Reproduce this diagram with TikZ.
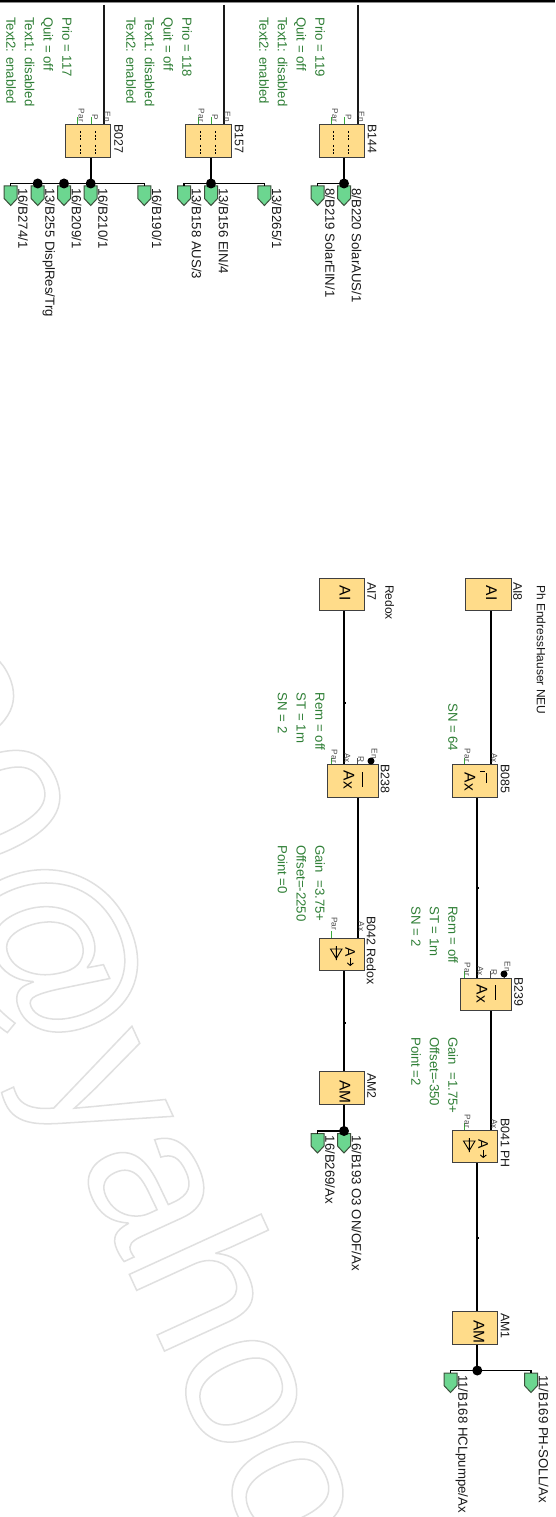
\documentclass[tikz,border=0pt]{standalone}
\usepackage{fontspec}
\usetikzlibrary{arrows.meta}
\setmainfont{Liberation Sans}
\definecolor{boxfill}{HTML}{FFDC8A}
\definecolor{boxline}{HTML}{404040}
\definecolor{pfill}{HTML}{6CD690}
\definecolor{pline}{HTML}{3C503C}
\definecolor{grn}{HTML}{2F7F36}
\definecolor{pargrn}{HTML}{3AAA3A}
\tikzset{
 blk/.style={draw=boxline,fill=boxfill,line width=1pt,inner sep=0pt,minimum width=#1,minimum height=32.5pt},
 blk/.default=45.5pt,
 lbl/.style={rotate=-90,anchor=west,inner sep=0pt,font=\fontsize{13.2}{13.2}\selectfont,text=black!90,text height=9.5pt,text depth=0pt},
 blbl/.style={lbl,font=\fontsize{12.4}{12.4}\selectfont},
 cmt/.style={lbl,font=\fontsize{12}{12}\selectfont},
 note/.style={lbl,text=grn},
 sym/.style={rotate=-90,inner sep=0pt,font=\fontsize{15.5}{15.5}\selectfont,text=black},
 pinlbl/.style={rotate=-90,anchor=east,inner sep=0pt,font=\fontsize{8.3}{8.3}\selectfont,text=black!70},
 thickwire/.style={line width=2.2pt,black},
 thinwire/.style={line width=1.1pt,black!90},
 parwire/.style={line width=0.8pt,pargrn},
 rwire/.style={line width=0.8pt,black!70},
 busw/.style={line width=1.1pt,black},
 jdot/.style={circle,fill=black,inner sep=0pt,minimum size=#1},
 jdot/.default=10pt,
 pennant/.style={fill=pfill,draw=pline,line width=1pt},
 glyph/.style={line width=0.9pt,black},
 dashg/.style={line width=0.8pt,dash pattern=on 2.2pt off 1.4pt},
}
\newcommand\pen[4]{\coordinate (#1) at (#2,#3);
 \filldraw[pennant] (#1) ++(-6.5,0) -- ++(13,0) -- ++(0,12.5) -- ++(-6.5,7) -- ++(-6.5,-7) -- cycle;
 \node[lbl] (#1t) at (#2+12.5,#3+2) {#4};}
\newcommand\pinl[3]{\node[pinlbl] at (#1,#2) {#3};}
\newcommand\wtick[2]{\fill[black] (#1-0.6,#2-0.6) rectangle (#1+1.6,#2+0.6);}
\begin{document}
\begin{tikzpicture}[x=1pt,y=-1pt]
\useasboundingbox (0,0) rectangle (555,1517);
\fill[white] (0,0) rectangle (555,1517);
% watermark
\begin{scope}
\clip (0,0) rectangle (555,1517);
\node[rotate=-65.4,anchor=base west,inner sep=0pt,font=\fontsize{200}{200}\selectfont] (wm) at (-141.5,682.8)
 {\special{pdf:code 1 Tr 1.5 w 0.88 G}00@yahoo\special{pdf:code 0 Tr 0 G}};
\end{scope}
% top rule
\fill[black] (0,0) rectangle (555,2.4);
\fill[black!45] (0,2.4) rectangle (555,3.4);

% ----- B027
\node[blk] (B027) at (88.2,141) {};
\coordinate (B027top) at (104,5);
\draw[thinwire] (B027top) -- (B027.north -| B027top);
\coordinate (B027par) at (77.5,117); \coordinate (B027p) at (91,117);
\draw[parwire] (B027par) -- (B027.north -| B027par);
\draw[parwire] (B027p) -- (B027.north -| B027p);
\pinl{81.5}{122}{Par}\pinl{95}{120}{P}\pinl{107.5}{122}{En}
\node[blbl] (B027l) at (119,124) {B027};
\foreach \x in {80,95}{\draw[dashg] (\x,131)--(\x,140);\draw[dashg] (\x,145)--(\x,154);}
\pen{a1}{10.7}{186}{16/B274/1}
\pen{a2}{37.7}{186}{13/B255 DisplRes/Trg}
\pen{a3}{64}{186}{16/B209/1}
\pen{a4}{90.7}{186}{16/B210/1}
\pen{a5}{144.3}{186}{16/B190/1}
\draw[busw] (a1) -- ++(0,-2.5) -| (a5);
\coordinate (a2b) at (37.7,183.5);\coordinate (a3b) at (64,183.5);\coordinate (a4b) at (90.7,183.5);
\draw[thickwire] (B027.south -| a4b) -- (a4b);
\node[jdot] (d1) at (a4b) {};\node[jdot] (d2) at (a3b) {};\node[jdot] (d3) at (a2b) {};
\node[note] (n1a) at (67,17) {Prio = 117};
\node[note] (n1b) at (48.3,17) {Quit = off};
\node[note] (n1c) at (29.6,17) {Text1: disabled};
\node[note] (n1d) at (11,17) {Text2: enabled};

% ----- B157
\node[blk] (B157) at (208.3,141) {};
\coordinate (B157top) at (224,5);
\draw[thinwire] (B157top) -- (B157.north -| B157top);
\coordinate (B157par) at (198,117); \coordinate (B157p) at (211.3,117);
\draw[parwire] (B157par) -- (B157.north -| B157par);
\draw[parwire] (B157p) -- (B157.north -| B157p);
\pinl{201.5}{122}{Par}\pinl{215}{120}{P}\pinl{227.5}{122}{En}
\node[blbl] (B157l) at (239.5,124) {B157};
\foreach \x in {200.3,215}{\draw[dashg] (\x,131)--(\x,140);\draw[dashg] (\x,145)--(\x,154);}
\pen{b1}{184}{186}{13/B158 AUS/3}
\pen{b2}{211}{186}{13/B156 EIN/4}
\pen{b3}{264.4}{186}{13/B265/1}
\draw[busw] (b1) -- ++(0,-2.5) -| (b3);
\coordinate (b2b) at (211,183.5);
\draw[thickwire] (B157.south -| b2b) -- (b2b);
\node[jdot] (d4) at (b2b) {};
\node[note] (n2a) at (187,17) {Prio = 118};
\node[note] (n2b) at (168.3,17) {Quit = off};
\node[note] (n2c) at (149.6,17) {Text1: disabled};
\node[note] (n2d) at (131,17) {Text2: enabled};

% ----- B144
\node[blk] (B144) at (341.8,141) {};
\coordinate (B144top) at (358,5);
\draw[thinwire] (B144top) -- (B144.north -| B144top);
\coordinate (B144par) at (331,117); \coordinate (B144p) at (344.5,117);
\draw[parwire] (B144par) -- (B144.north -| B144par);
\draw[parwire] (B144p) -- (B144.north -| B144p);
\pinl{335}{122}{Par}\pinl{348.5}{120}{P}\pinl{361.5}{122}{En}
\node[blbl] (B144l) at (372.5,124) {B144};
\foreach \x in {333.5,348.5}{\draw[dashg] (\x,131)--(\x,140);\draw[dashg] (\x,145)--(\x,154);}
\pen{c1}{317.5}{186}{8/B219 SolarEIN/1}
\pen{c2}{344}{186}{8/B220 SolarAUS/1}
\draw[busw] (c1) -- ++(0,-2.5) -| (c2);
\coordinate (c2b) at (344,183.5);
\draw[thickwire] (B144.south -| c2b) -- (c2b);
\node[jdot] (d5) at (c2b) {};
\node[note] (n3a) at (320,17) {Prio = 119};
\node[note] (n3b) at (301.3,17) {Quit = off};
\node[note] (n3c) at (282.6,17) {Text1: disabled};
\node[note] (n3d) at (264,17) {Text2: enabled};

% ----- Redox chain
\node[blk] (AI7) at (341.8,594.5) {};
\node[sym] (AI7s) at (345,593) {AI};
\node[blbl] (AI7l) at (372,582) {AI7};
\node[cmt] (Redox) at (390,585) {Redox};
\node[blk=51pt] (B238) at (352.5,781) {};
\draw[thickwire] (AI7.south -| 344,0) -- (B238.north -| 344,0);
\wtick{344}{703}
\coordinate (B238par) at (331,757.5);\coordinate (B238r) at (357.7,757.5);\coordinate (B238en) at (371,761);
\draw[parwire] (B238par) -- (B238.north -| B238par);
\draw[rwire] (B238r) -- (B238.north -| B238r);
\draw[rwire] (B238en) -- (B238.north -| B238en);
\node[jdot=7pt] (B238d) at (B238en) {};
\pinl{334.5}{763}{Par}\pinl{347.5}{763}{Ax}\pinl{361}{763}{R}\pinl{374.5}{759}{En}
\node[blbl] (B238l) at (385.7,764) {B238};
\node[sym] (B238s) at (349,780) {Ax};
\draw[glyph] (362,772) -- (362,787);
\node[note] (n4a) at (320,692.7) {Rem = off};
\node[note] (n4b) at (301.3,692.7) {ST = 1m};
\node[note] (n4c) at (282.7,692.7) {SN = 2};
\node[note] (n5a) at (320,845) {Gain \ =3.75+};
\node[note] (n5b) at (301.3,845) {Offset=-2250};
\node[note] (n5c) at (282.7,845) {Point =0};
\node[blk] (B042) at (341.8,954.5) {};
\draw[thickwire] (B238.south -| 357.7,0) -- (B042.north -| 357.7,0);
\wtick{357.7}{851}
\coordinate (B042par) at (331,931);
\draw[parwire] (B042par) -- (B042.north -| B042par);
\pinl{334.5}{930.5}{Par}\pinl{361.5}{931.5}{Ax}
\node[blbl] (B042l) at (371.7,916) {B042 Redox};
\node[sym,font=\fontsize{14}{14}\selectfont] (B042s) at (350.3,952.5) {A};
\draw[glyph,-{Straight Barb[length=2.5pt,width=6pt]}] (350.3,958) -- (350.3,966);
\draw[glyph] (330.5,949) -- (342,949) -- (336.3,958.5) -- cycle (336.3,946) -- (336.3,960);
\node[blk] (AM2) at (341.8,1088) {};
\draw[thickwire] (B042.south -| 344,0) -- (AM2.north -| 344,0);
\wtick{344}{1023}
\node[sym] (AM2s) at (345,1092) {AM};
\node[blbl] (AM2l) at (372,1073) {AM2};
\pen{e1}{317.5}{1133.5}{16/B269/Ax}
\pen{e2}{344}{1133.5}{16/B193 O3 ON/OF/Ax}
\draw[busw,line width=1.6pt] (e1) -- ++(0,-2.5) -| (e2);
\coordinate (e2b) at (344,1131);
\draw[thickwire] (AM2.south -| e2b) -- (e2b);
\node[jdot] (d6) at (e2b) {};

% ----- pH chain
\node[blk] (AI8) at (488.4,594.5) {};
\node[sym] (AI8s) at (491.5,593) {AI};
\node[blbl] (AI8l) at (518,582) {AI8};
\node[cmt] (PhE) at (541.7,585) {Ph EndressHauser NEU};
\node[blk] (B085) at (474.8,781) {};
\draw[thickwire] (AI8.south -| 490.7,0) -- (B085.north -| 490.7,0);
\wtick{490.7}{703}
\coordinate (B085par) at (464,757.5);
\draw[parwire] (B085par) -- (B085.north -| B085par);
\pinl{467.5}{762}{Par}\pinl{494.5}{763}{Ax}
\node[blbl] (B085l) at (505.7,764) {B085};
\node[sym] (B085s) at (470,782) {Ax};
\draw[glyph] (480,771) -- (484.5,771) (486.5,773) -- (486.5,783);
\node[note] (n6) at (453,703) {SN = 64};
\node[blk=51pt] (B239) at (485.5,994.5) {};
\draw[thickwire] (B085.south -| 477,0) -- (B239.north -| 477,0);
\wtick{477}{888}
\coordinate (B239par) at (464,971);\coordinate (B239r) at (490.7,971);\coordinate (B239en) at (504,974);
\draw[parwire] (B239par) -- (B239.north -| B239par);
\draw[rwire] (B239r) -- (B239.north -| B239r);
\draw[rwire] (B239en) -- (B239.north -| B239en);
\node[jdot=7pt] (B239d) at (B239en) {};
\pinl{467.5}{976}{Par}\pinl{480.5}{976}{Ax}\pinl{494}{976}{R}\pinl{507.5}{972}{En}
\node[blbl] (B239l) at (519,977) {B239};
\node[sym] (B239s) at (482,994) {Ax};
\draw[glyph] (495,985) -- (495,1000);
\node[note] (n7a) at (453,906) {Rem = off};
\node[note] (n7b) at (434.5,906) {ST = 1m};
\node[note] (n7c) at (416,906) {SN = 2};
\node[note] (n8a) at (453,1037) {Gain \ =1.75+};
\node[note] (n8b) at (434.5,1037) {Offset=-350};
\node[note] (n8c) at (416,1037) {Point =2};
\node[blk] (B041) at (474.8,1146.5) {};
\draw[thickwire] (B239.south -| 490.7,0) -- (B041.north -| 490.7,0);
\wtick{490.7}{1051}
\coordinate (B041par) at (464,1123);
\draw[parwire] (B041par) -- (B041.north -| B041par);
\pinl{467.5}{1128}{Par}\pinl{494.5}{1129}{Ax}
\node[blbl] (B041l) at (505.7,1118) {B041 PH};
\node[sym,font=\fontsize{14}{14}\selectfont] (B041s) at (483.3,1144.5) {A};
\draw[glyph,-{Straight Barb[length=2.5pt,width=6pt]}] (483.3,1150) -- (483.3,1158);
\draw[glyph] (463.5,1141) -- (475,1141) -- (469.3,1150.5) -- cycle (469.3,1138) -- (469.3,1152);
\node[blk] (AM1) at (474.8,1328) {};
\draw[thickwire] (B041.south -| 477.3,0) -- (AM1.north -| 477.3,0);
\wtick{477.3}{1238}
\node[sym] (AM1s) at (479,1332) {AM};
\node[blbl] (AM1l) at (505.7,1313) {AM1};
\pen{f1}{450.5}{1373}{11/B168 HCLpumpe/Ax}
\pen{f2}{531}{1373}{11/B169 PH-SOLL/Ax}
\draw[busw,line width=1.6pt] (f1) -- ++(0,-2.5) -| (f2);
\coordinate (f2b) at (477.3,1370.5);
\draw[thickwire] (AM1.south -| f2b) -- (f2b);
\node[jdot] (d7) at (f2b) {};
\end{tikzpicture}
\end{document}
